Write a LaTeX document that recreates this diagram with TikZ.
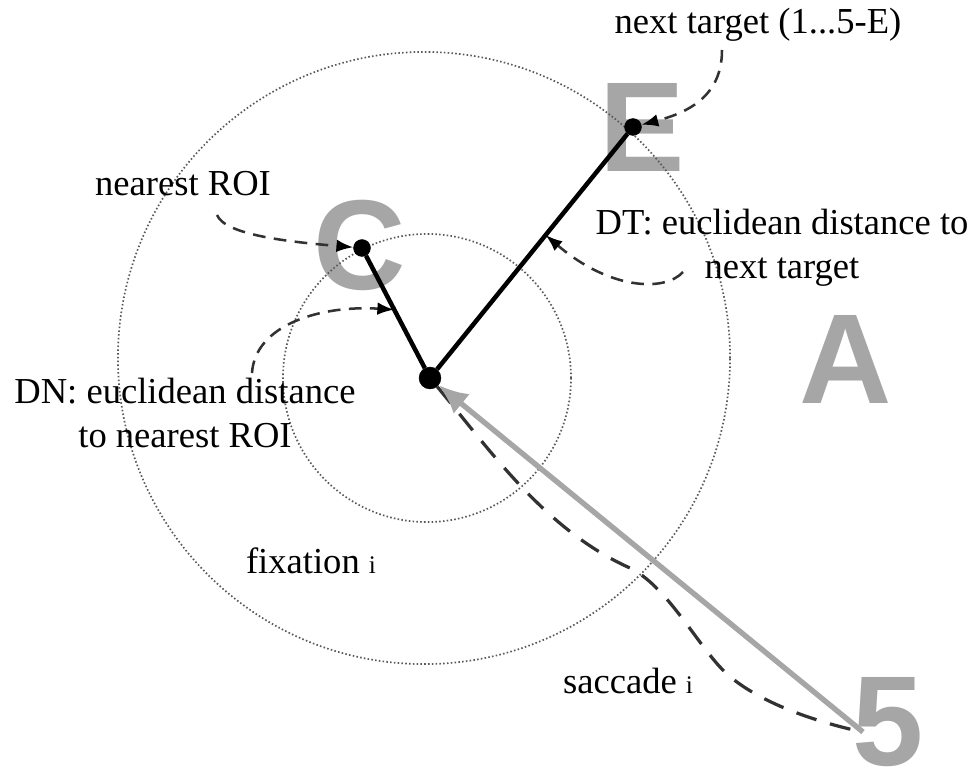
\documentclass[tikz,border=0pt]{standalone}
\usepackage{fontspec}
\setmainfont{Liberation Serif}
\newfontfamily\roifont{Liberation Sans}
\usepackage{tikz}
\usetikzlibrary{arrows.meta}
\definecolor{roigray}{RGB}{166,166,166}
\definecolor{notegray}{RGB}{50,50,50}
\tikzstyle{fixdot}=[draw=black,fill=black,inner sep=0pt,minimum size=15.5pt,circle]
\tikzstyle{roidot}=[draw=black,fill=black,inner sep=0pt,minimum size=12pt,circle]
\tikzstyle{roi}=[text=roigray,inner sep=0pt,font=\roifont\bfseries\fontsize{91}{91}\selectfont]
\tikzstyle{lbl}=[inner sep=0pt,align=center,font=\fontsize{26}{31}\selectfont]
\tikzstyle{ring}=[draw=black!65,line width=1.2pt,dash pattern=on 1.1pt off 1.6pt]
\tikzstyle{dist}=[draw=black,line width=3.2pt]
\tikzstyle{note}=[draw=notegray,line width=1.8pt,dash pattern=on 9pt off 6pt,-{Latex[length=12pt,width=9pt,color=black]}]
\tikzstyle{saccade}=[draw=notegray,line width=2.3pt,dash pattern=on 15pt off 10pt]
\tikzstyle{move}=[draw=roigray,line width=3.8pt,-{Latex[length=21pt,width=18pt]}]

\begin{document}
\begin{tikzpicture}[x=0.025cm,y=-0.025cm]
      \useasboundingbox (0,0) rectangle (979,771);

      % regions of interest
      \node[roi] (letE) at (642,127) {E};
      \node[roi] (letC) at (360,245) {C};
      \node[roi] (letA) at (846,359) {A};
      \node[roi] (letFive) at (888,722) {5};

      % rings round the fixation
      \coordinate (inner) at (427,378);
      \coordinate (outer) at (424,358);
      \draw[ring] (inner) circle[radius=3.6cm];
      \draw[ring] (outer) circle[radius=7.65cm];

      \node[fixdot] (fix) at (430,378) {};
      \node[roidot] (roiC) at (362,248) {};
      \node[roidot] (roiE) at (633,127) {};
      \coordinate (sstart) at (863,732);
      \coordinate (sacA) at (630,568);
      \coordinate (sacB) at (720,667);

      \draw[dist] (fix) -- (roiC) coordinate[pos=0.52] (dnTip);
      \draw[dist] (fix) -- (roiE) coordinate[pos=0.57] (dtTip);

      \draw[saccade] (fix) .. controls (490,450) and (545,530) .. (sacA)
        .. controls (665,585) and (695,640) .. (sacB)
        .. controls (750,700) and (815,722) .. (sstart);
      \draw[move] (sstart) -- (fix);

      \node[lbl,anchor=base] (ntlbl) at (758,33) {next target (1...5-E)};
      \node[lbl,anchor=base] (nrlbl) at (183,195) {nearest ROI};
      \node[lbl] (dnlbl) at (185,413) {DN: euclidean distance\\to nearest ROI};
      \node[lbl] (dtlbl) at (782,248) {DT: euclidean distance to\\next target};
      \node[lbl,anchor=base] (fixlbl) at (311,573) {fixation {\fontsize{18}{20}\selectfont i}};
      \node[lbl,anchor=base] (saclbl) at (628,693) {saccade {\fontsize{18}{20}\selectfont i}};

      \coordinate (ntStart) at (722,50);
      \coordinate (nrStart) at (217,215);
      \coordinate (dnStart) at (252,373);
      \coordinate (dtStart) at (683,272);

      \draw[note] (ntStart) .. controls (722,95) and (690,112) .. (roiE);
      \draw[note] (nrStart) .. controls (225,235) and (290,242) .. (roiC);
      \draw[note] (dnStart) .. controls (255,325) and (320,305) .. (dnTip);
      \draw[note] (dtStart) .. controls (665,292) and (610,290) .. (dtTip);
    \end{tikzpicture}
\end{document}
